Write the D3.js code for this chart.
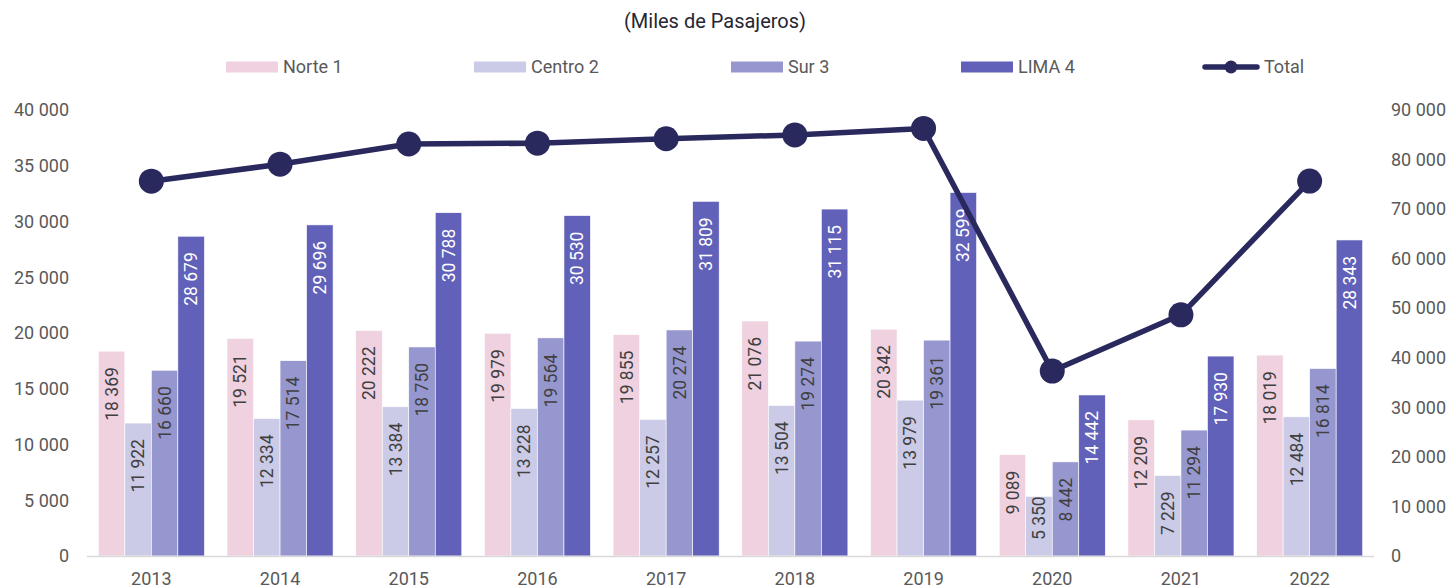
<!DOCTYPE html>
<html>
<head>
<meta charset="utf-8">
<script src="https://cdn.jsdelivr.net/npm/d3@7"></script>
<style>
  html, body { margin: 0; padding: 0; background: #fff; }
  svg { display: block; font-family: Roboto, "Noto Sans", sans-serif; }
</style>
</head>
<body>
<svg id="chart" width="1451" height="588"></svg>
<script>
// Passenger traffic by region, thousands of passengers
const years = ["2013", "2014", "2015", "2016", "2017", "2018", "2019", "2020", "2021", "2022"];
const seriesNames = ["Norte 1", "Centro 2", "Sur 3", "LIMA 4"];
const norte1  = [18369, 19521, 20222, 19979, 19855, 21076, 20342, 9089, 12209, 18019];
const centro2 = [11922, 12334, 13384, 13228, 12257, 13504, 13979, 5350, 7229, 12484];
const sur3    = [16660, 17514, 18750, 19564, 20274, 19274, 19361, 8442, 11294, 16814];
const lima4   = [28679, 29696, 30788, 30530, 31809, 31115, 32599, 14442, 17930, 28343];
const total   = [75630, 79065, 83144, 83301, 84195, 84969, 86281, 37323, 48662, 75660];
const leftTicks  = [0, 5000, 10000, 15000, 20000, 25000, 30000, 35000, 40000];
const rightTicks = [0, 10000, 20000, 30000, 40000, 50000, 60000, 70000, 80000, 90000];
const titleText = "(Miles de Pasajeros)";
const totalName = "Total";

const seriesValues = [norte1, centro2, sur3, lima4];
const barColors = ["#efd1e0", "#cbcbe7", "#9797d0", "#6161b9"];
const labelColors = ["#404040", "#404040", "#404040", "#ffffff"];
const lineColor = "#2a295e";
const textColor = "#595959";

const svg = d3.select("#chart");
const plot = { left: 87, right: 1374, top: 110, bottom: 556 };

const x = d3.scaleBand().domain(years).range([plot.left, plot.right]).paddingInner(0.176).paddingOuter(0.088);
const xs = d3.scaleBand().domain(seriesNames).range([0, x.bandwidth()]);
const yL = d3.scaleLinear().domain([0, 40000]).range([plot.bottom, plot.top]);
const yR = d3.scaleLinear().domain([0, 90000]).range([plot.bottom, plot.top]);

const fmt = v => d3.format(",")(v).replace(/,/g, " ");

// Title
svg.append("text")
  .attr("x", 715).attr("y", 28)
  .attr("text-anchor", "middle")
  .attr("font-size", 20).attr("font-weight", 400)
  .attr("fill", "#262633")
  .text(titleText);

// Left axis
const axL = svg.append("g").attr("transform", `translate(${plot.left - 18},0)`)
  .call(d3.axisLeft(yL).tickValues(leftTicks).tickFormat(fmt).tickSize(0).tickPadding(0));
axL.select(".domain").remove();
axL.selectAll("text").attr("font-size", 18).attr("fill", textColor).attr("font-family", "Roboto");

// Right axis
const axR = svg.append("g").attr("transform", `translate(${plot.right + 17},0)`)
  .call(d3.axisRight(yR).tickValues(rightTicks).tickFormat(fmt).tickSize(0).tickPadding(0));
axR.select(".domain").remove();
axR.selectAll("text").attr("font-size", 18).attr("fill", textColor).attr("font-family", "Roboto");

// Bars
const groups = svg.append("g").selectAll("g")
  .data(years).join("g")
  .attr("transform", d => `translate(${x(d)},0)`);

const barData = (yr, i) => seriesNames.map((s, k) => ({ s, k, v: seriesValues[k][i] }));

groups.each(function (yr, i) {
  const g = d3.select(this);
  const data = barData(yr, i);
  g.selectAll("rect").data(data).join("rect")
    .attr("x", d => xs(d.s))
    .attr("y", d => yL(d.v))
    .attr("width", xs.bandwidth())
    .attr("height", d => plot.bottom - yL(d.v))
    .attr("fill", d => barColors[d.k])
    .attr("stroke", "#ffffff").attr("stroke-width", 0.6);

  g.selectAll("text").data(data).join("text")
    .attr("text-anchor", "start")
    .attr("font-size", 17.5)
    .attr("fill", d => labelColors[d.k])
    .text(d => fmt(d.v))
    .each(function (d) {
      const len = this.getComputedTextLength();
      let top = yL(d.v) + 16;
      if (top + len > plot.bottom - 16) top = plot.bottom - 16 - len;
      const cx = xs(d.s) + xs.bandwidth() / 2;
      d3.select(this)
        .attr("transform", `translate(${cx},${top + len}) rotate(-90)`)
        .attr("dy", "0.35em");
    });
});

// Category axis baseline
svg.append("line")
  .attr("x1", plot.left).attr("x2", plot.right)
  .attr("y1", plot.bottom + 0.5).attr("y2", plot.bottom + 0.5)
  .attr("stroke", "#d9d9d9").attr("stroke-width", 1.5);

const axB = svg.append("g").attr("transform", `translate(0,${plot.bottom})`)
  .call(d3.axisBottom(x).tickSize(0).tickPadding(16));
axB.select(".domain").remove();
axB.selectAll("text").attr("font-size", 18).attr("fill", textColor).attr("font-family", "Roboto");

// Total line
const line = d3.line()
  .x((d, i) => x(years[i]) + x.bandwidth() / 2)
  .y(d => yR(d));
svg.append("path")
  .datum(total)
  .attr("d", line)
  .attr("fill", "none")
  .attr("stroke", lineColor)
  .attr("stroke-width", 5.5)
  .attr("stroke-linejoin", "round");
svg.append("g").selectAll("circle")
  .data(total).join("circle")
  .attr("cx", (d, i) => x(years[i]) + x.bandwidth() / 2)
  .attr("cy", d => yR(d))
  .attr("r", 12.5)
  .attr("fill", lineColor);

// Legend
const legendX = [226, 474, 731, 961];
const legendY = 67;
const leg = svg.append("g");
seriesNames.forEach((name, k) => {
  leg.append("rect")
    .attr("x", legendX[k]).attr("y", legendY - 5.5)
    .attr("width", 52).attr("height", 11)
    .attr("fill", barColors[k]);
  leg.append("text")
    .attr("x", legendX[k] + 57).attr("y", legendY)
    .attr("dy", "0.35em")
    .attr("font-size", 18).attr("fill", textColor)
    .text(name);
});
const tx = 1203;
leg.append("line")
  .attr("x1", tx + 2).attr("x2", tx + 54)
  .attr("y1", legendY).attr("y2", legendY)
  .attr("stroke", lineColor).attr("stroke-width", 5.5).attr("stroke-linecap", "round");
leg.append("circle")
  .attr("cx", tx + 28).attr("cy", legendY).attr("r", 6.5)
  .attr("fill", lineColor);
leg.append("text")
  .attr("x", tx + 61).attr("y", legendY)
  .attr("dy", "0.35em")
  .attr("font-size", 18).attr("fill", textColor)
  .text(totalName);
</script>
</body>
</html>
